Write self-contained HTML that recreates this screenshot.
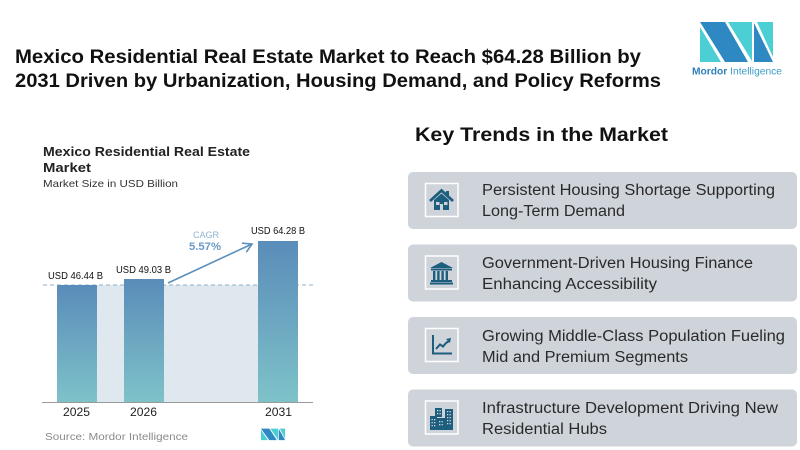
<!DOCTYPE html>
<html>
<head>
<meta charset="utf-8">
<style>
  html,body{margin:0;padding:0;background:#fff;}
  svg{display:block;}
  text{font-family:"Liberation Sans",sans-serif;}
</style>
</head>
<body>
<svg width="800" height="450" viewBox="0 0 800 450" xmlns="http://www.w3.org/2000/svg">
  <defs>
    <linearGradient id="bar" x1="0" y1="0" x2="0" y2="1">
      <stop offset="0" stop-color="#5a8cb9"/>
      <stop offset="1" stop-color="#7ec2c9"/>
    </linearGradient>
    <g id="mlogo">
      <polygon points="0,2 25,2 48,42 25,42" fill="#2e88c2"/>
      <polygon points="0,7 0,42 21,42" fill="#4ccfd4"/>
      <polygon points="28,2 52,2 52,41" fill="#4ccfd4"/>
      <polygon points="54,3 54,42 73,42" fill="#2e88c2"/>
      <polygon points="57,2 73,2 73,37" fill="#4ccfd4"/>
    </g>
  </defs>
  <rect width="800" height="450" fill="#fff"/>

  <!-- Title -->
  <text x="15" y="63" font-size="19" font-weight="bold" fill="#111" textLength="626" lengthAdjust="spacingAndGlyphs">Mexico Residential Real Estate Market to Reach $64.28 Billion by</text>
  <text x="15" y="87" font-size="19" font-weight="bold" fill="#111" textLength="646" lengthAdjust="spacingAndGlyphs">2031 Driven by Urbanization, Housing Demand, and Policy Reforms</text>

  <!-- Logo -->
  <use href="#mlogo" x="700" y="20"/>
  <text x="692" y="74.5" font-size="10" fill="#2e7fb8" textLength="90" lengthAdjust="spacingAndGlyphs"><tspan font-weight="bold">Mordor</tspan><tspan fill="#3a9cc8"> Intelligence</tspan></text>

  <!-- Chart title -->
  <text x="43" y="156" font-size="12.5" font-weight="bold" fill="#222" textLength="207" lengthAdjust="spacingAndGlyphs">Mexico Residential Real Estate</text>
  <text x="43" y="172" font-size="12.5" font-weight="bold" fill="#222" textLength="48" lengthAdjust="spacingAndGlyphs">Market</text>
  <text x="43" y="187" font-size="10.5" fill="#333" textLength="135" lengthAdjust="spacingAndGlyphs">Market Size in USD Billion</text>

  <!-- shaded area -->
  <rect x="57" y="285" width="241" height="117" fill="#dfe7ef"/>
  <!-- dashed line -->
  <line x1="43" y1="285" x2="313" y2="285" stroke="#8fb0c8" stroke-width="1" stroke-dasharray="4,3"/>
  <!-- bars -->
  <rect x="57" y="285" width="40" height="117" fill="url(#bar)"/>
  <rect x="124" y="279" width="40" height="123" fill="url(#bar)"/>
  <rect x="258" y="241" width="40" height="161" fill="url(#bar)"/>
  <!-- baseline -->
  <line x1="42" y1="402.5" x2="313" y2="402.5" stroke="#9a9a9a" stroke-width="1"/>

  <!-- bar labels -->
  <text x="48" y="279" font-size="10" fill="#111" textLength="55" lengthAdjust="spacingAndGlyphs">USD 46.44 B</text>
  <text x="116" y="273" font-size="10" fill="#111" textLength="55" lengthAdjust="spacingAndGlyphs">USD 49.03 B</text>
  <text x="251" y="234" font-size="10" fill="#111" textLength="54" lengthAdjust="spacingAndGlyphs">USD 64.28 B</text>

  <!-- CAGR -->
  <text x="193" y="238" font-size="9.5" fill="#8fb2d2" textLength="26" lengthAdjust="spacingAndGlyphs">CAGR</text>
  <text x="189" y="250" font-size="11" font-weight="bold" fill="#6a9ac6" textLength="32" lengthAdjust="spacingAndGlyphs">5.57%</text>
  <line x1="168" y1="283" x2="252" y2="244" stroke="#5b8fbb" stroke-width="1.6"/>
  <polyline points="242,243.2 252,244 246.3,252.2" fill="none" stroke="#5b8fbb" stroke-width="1.6"/>

  <!-- years -->
  <text x="63" y="416" font-size="12" fill="#222" textLength="27" lengthAdjust="spacingAndGlyphs">2025</text>
  <text x="130" y="416" font-size="12" fill="#222" textLength="27" lengthAdjust="spacingAndGlyphs">2026</text>
  <text x="265" y="416" font-size="12" fill="#222" textLength="27" lengthAdjust="spacingAndGlyphs">2031</text>

  <!-- Source -->
  <text x="45" y="440" font-size="10" fill="#8a8a8a" textLength="143" lengthAdjust="spacingAndGlyphs">Source: Mordor Intelligence</text>
  <g transform="translate(261,428) scale(0.33,0.29)"><use href="#mlogo"/></g>

  <!-- Key trends -->
  <text x="415" y="141" font-size="19" font-weight="bold" fill="#111" textLength="253" lengthAdjust="spacingAndGlyphs">Key Trends in the Market</text>

  <!-- Cards -->
  <rect x="408" y="172" width="389" height="57" rx="5" fill="#cfd4db"/>
  <rect x="408" y="244.5" width="389" height="57" rx="5" fill="#cfd4db"/>
  <rect x="408" y="317" width="389" height="57" rx="5" fill="#cfd4db"/>
  <rect x="408" y="389.5" width="389" height="57" rx="5" fill="#cfd4db"/>

  <!-- icon boxes -->
  <rect x="425.5" y="183.5" width="32.5" height="33" fill="none" stroke="#fff" stroke-width="1.5"/>
  <rect x="425.5" y="256" width="32.5" height="33" fill="none" stroke="#fff" stroke-width="1.5"/>
  <rect x="425.5" y="328.5" width="32.5" height="33" fill="none" stroke="#fff" stroke-width="1.5"/>
  <rect x="425.5" y="401" width="32.5" height="33" fill="none" stroke="#fff" stroke-width="1.5"/>

  <!-- House icon -->
  <g transform="translate(425,183)" fill="#1d5d7e">
    <polyline points="5,18 16.5,7.5 28,18" fill="none" stroke="#1d5d7e" stroke-width="2.8" stroke-linejoin="miter"/>
    <rect x="21" y="8" width="3" height="6"/>
    <polygon points="9,17 16.5,10.5 24,17 24,27 9,27"/>
    <rect x="11" y="19" width="3.5" height="3" fill="#cfd4db"/>
    <rect x="19" y="19" width="3.5" height="3" fill="#cfd4db"/>
    <rect x="15" y="21" width="3" height="6" fill="#cfd4db"/>
  </g>

  <!-- Bank icon -->
  <g transform="translate(425,256)" fill="#1d5d7e">
    <polygon points="5,12 16.5,6 28,12"/>
    <rect x="6" y="12.5" width="21" height="2"/>
    <rect x="8" y="15" width="2.4" height="9"/>
    <rect x="12.2" y="15" width="2.4" height="9"/>
    <rect x="16.4" y="15" width="2.4" height="9"/>
    <rect x="20.6" y="15" width="2.4" height="9"/>
    <rect x="6" y="24" width="21" height="2"/>
    <rect x="5" y="26.5" width="23" height="2"/>
  </g>

  <!-- Chart icon -->
  <g transform="translate(425,328)">
    <polyline points="8,7 8,25.5 27,25.5" fill="none" stroke="#1d5d7e" stroke-width="2"/>
    <polyline points="11,21 15,16.5 18,18.5 21,15 24,13" fill="none" stroke="#1d5d7e" stroke-width="2"/>
    <polygon points="21,11 26,10 25,15" fill="#1d5d7e"/>
  </g>

  <!-- Buildings icon -->
  <g transform="translate(425,401)" fill="#1d5d7e">
    <rect x="10" y="7" width="7" height="9"/>
    <rect x="5" y="15" width="7" height="14"/>
    <rect x="12" y="17" width="8" height="12"/>
    <rect x="20" y="8" width="8" height="21"/>
    <g fill="#cfd4db">
      <rect x="12" y="9" width="1.3" height="1.3"/><rect x="14.5" y="9" width="1.3" height="1.3"/>
      <rect x="12" y="12" width="1.3" height="1.3"/><rect x="14.5" y="12" width="1.3" height="1.3"/>
      <rect x="6.5" y="18" width="1.3" height="1.3"/><rect x="9" y="18" width="1.3" height="1.3"/>
      <rect x="6.5" y="21" width="1.3" height="1.3"/><rect x="9" y="21" width="1.3" height="1.3"/>
      <rect x="6.5" y="24" width="1.3" height="1.3"/><rect x="9" y="24" width="1.3" height="1.3"/>
      <rect x="14" y="20" width="1.3" height="1.3"/><rect x="16.5" y="20" width="1.3" height="1.3"/>
      <rect x="14" y="23" width="1.3" height="1.3"/><rect x="16.5" y="23" width="1.3" height="1.3"/>
      <rect x="22" y="10" width="1.3" height="1.3"/><rect x="24.5" y="10" width="1.3" height="1.3"/>
      <rect x="22" y="13" width="1.3" height="1.3"/><rect x="24.5" y="13" width="1.3" height="1.3"/>
      <rect x="22" y="16" width="1.3" height="1.3"/><rect x="24.5" y="16" width="1.3" height="1.3"/>
      <rect x="22" y="19" width="1.3" height="1.3"/><rect x="24.5" y="19" width="1.3" height="1.3"/>
      <rect x="22" y="22" width="1.3" height="1.3"/><rect x="24.5" y="22" width="1.3" height="1.3"/>
    </g>
  </g>

  <!-- Card texts -->
  <g font-size="15.5" fill="#2a2a2a">
    <text x="482" y="195" textLength="293" lengthAdjust="spacingAndGlyphs">Persistent Housing Shortage Supporting</text>
    <text x="482" y="216" textLength="143" lengthAdjust="spacingAndGlyphs">Long-Term Demand</text>
    <text x="482" y="268" textLength="271" lengthAdjust="spacingAndGlyphs">Government-Driven Housing Finance</text>
    <text x="482" y="289" textLength="175" lengthAdjust="spacingAndGlyphs">Enhancing Accessibility</text>
    <text x="482" y="341" textLength="303" lengthAdjust="spacingAndGlyphs">Growing Middle-Class Population Fueling</text>
    <text x="482" y="362" textLength="206" lengthAdjust="spacingAndGlyphs">Mid and Premium Segments</text>
    <text x="482" y="413" textLength="296" lengthAdjust="spacingAndGlyphs">Infrastructure Development Driving New</text>
    <text x="482" y="434" textLength="125" lengthAdjust="spacingAndGlyphs">Residential Hubs</text>
  </g>
</svg>
</body>
</html>
